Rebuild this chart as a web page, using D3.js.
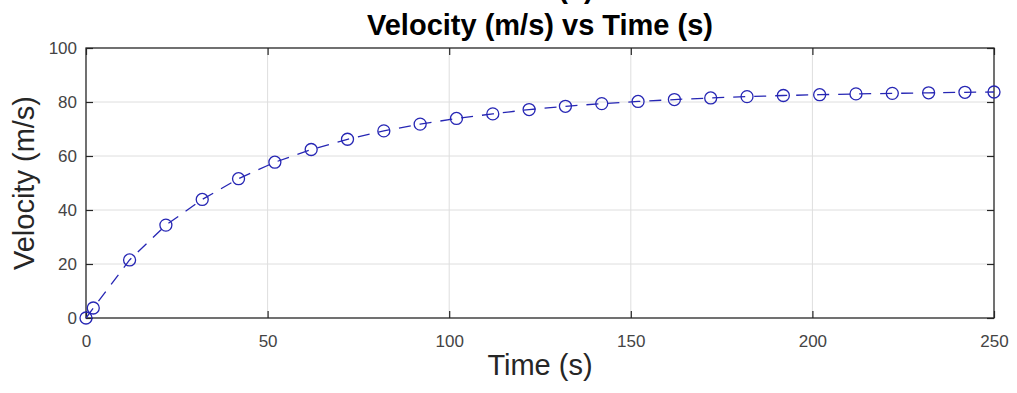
<!DOCTYPE html>
<html lang="en">

<head>
    <meta charset="UTF-8">
    <title>Velocity vs Time</title>
    <style>
        body { margin: 0; background: #fff; }
        svg { display: block; font-family: "Liberation Sans", Arial, Helvetica, sans-serif; }
    </style>
</head>

<body>
    <svg id="chart" width="1017" height="393"></svg>

    <script src="https://cdn.jsdelivr.net/npm/d3@7"></script>
    <script>
        // data
        const timeValues = [0, 2, 12, 22, 32, 42, 52, 62, 72, 82, 92, 102, 112, 122, 132,
            142, 152, 162, 172, 182, 192, 202, 212, 222, 232, 242, 250]
        const velocityValues = [0, 3.7, 21.5, 34.4, 43.9, 51.6, 57.7, 62.4, 66.2, 69.3, 71.8, 73.9, 75.6, 77.2, 78.4,
            79.4, 80.2, 80.9, 81.5, 82.0, 82.4, 82.7, 83.0, 83.2, 83.4, 83.6, 83.7]
        const xTicks = [0, 50, 100, 150, 200, 250]
        const yTicks = [0, 20, 40, 60, 80, 100]

        const titleText = 'Velocity (m/s) vs Time (s)'
        const xLabel = 'Time (s)'
        const yLabel = 'Velocity (m/s)'

        const margin = { top: 48, right: 23, bottom: 75, left: 86 }
        const width = 1017, height = 393
        const axisColor = '#262626'
        const lineColor = '#2626b4'
        const tickLen = 7

        const svg = d3.select('#chart')

        const x = d3.scaleLinear().domain([0, 250]).range([margin.left, width - margin.right])
        const y = d3.scaleLinear().domain([0, 100]).range([height - margin.bottom, margin.top])

        // grid
        svg.append('g')
            .selectAll('line.gx')
            .data(xTicks.slice(1, -1))
            .join('line')
            .attr('x1', d => x(d)).attr('x2', d => x(d))
            .attr('y1', y(0)).attr('y2', y(100))
            .attr('stroke', '#dedede').attr('stroke-width', 1)
        svg.append('g')
            .selectAll('line.gy')
            .data(yTicks.slice(1, -1))
            .join('line')
            .attr('y1', d => y(d)).attr('y2', d => y(d))
            .attr('x1', x(0)).attr('x2', x(250))
            .attr('stroke', '#dedede').attr('stroke-width', 1)

        // axes (ticks point inward, mirrored on top/right like the box)
        const styleAxis = g => {
            g.select('.domain').remove()
            g.selectAll('.tick line').attr('stroke', axisColor).attr('stroke-width', 1.2)
            g.selectAll('.tick text').attr('fill', '#444').attr('font-size', 17)
        }

        svg.append('g')
            .attr('transform', `translate(0,${y(0)})`)
            .call(d3.axisBottom(x).tickValues(xTicks).tickSize(-tickLen).tickPadding(17))
            .call(styleAxis)
        svg.append('g')
            .attr('transform', `translate(0,${y(100)})`)
            .call(d3.axisTop(x).tickValues(xTicks).tickSize(-tickLen).tickFormat(''))
            .call(styleAxis)
        svg.append('g')
            .attr('transform', `translate(${x(0)},0)`)
            .call(d3.axisLeft(y).tickValues(yTicks).tickSize(-tickLen).tickPadding(9))
            .call(styleAxis)
        svg.append('g')
            .attr('transform', `translate(${x(250)},0)`)
            .call(d3.axisRight(y).tickValues(yTicks).tickSize(-tickLen).tickFormat(''))
            .call(styleAxis)

        // box
        svg.append('rect')
            .attr('x', x(0)).attr('y', y(100))
            .attr('width', x(250) - x(0)).attr('height', y(0) - y(100))
            .attr('fill', 'none').attr('stroke', axisColor).attr('stroke-width', 1.3)

        const pts = timeValues.map((t, i) => [t, velocityValues[i]])

        // dashed line
        svg.append('path')
            .datum(pts)
            .attr('d', d3.line().x(d => x(d[0])).y(d => y(d[1])))
            .attr('fill', 'none')
            .attr('stroke', lineColor)
            .attr('stroke-width', 1.3)
            .attr('stroke-dasharray', '12,9')

        // hollow circle markers
        svg.append('g')
            .selectAll('circle')
            .data(pts)
            .join('circle')
            .attr('cx', d => x(d[0]))
            .attr('cy', d => y(d[1]))
            .attr('r', 6)
            .attr('fill', 'none')
            .attr('stroke', lineColor)
            .attr('stroke-width', 1.3)

        // the line above the title is cut off by the top edge in the reference
        svg.append('text')
            .attr('x', 576).attr('y', -2)
            .attr('text-anchor', 'middle')
            .attr('font-size', 29).attr('font-weight', 'bold')
            .attr('fill', '#000')
            .text('(a)')

        // title
        svg.append('text')
            .attr('x', (x(0) + x(250)) / 2).attr('y', 35)
            .attr('text-anchor', 'middle')
            .attr('font-size', 29).attr('font-weight', 'bold')
            .attr('fill', '#000')
            .text(titleText)

        // axis labels
        svg.append('text')
            .attr('x', (x(0) + x(250)) / 2).attr('y', 375)
            .attr('text-anchor', 'middle')
            .attr('font-size', 29)
            .attr('fill', '#262626')
            .text(xLabel)

        svg.append('text')
            .attr('transform', `translate(34,${(y(0) + y(100)) / 2}) rotate(-90)`)
            .attr('text-anchor', 'middle')
            .attr('font-size', 29)
            .attr('fill', '#262626')
            .text(yLabel)
    </script>
</body>

</html>
